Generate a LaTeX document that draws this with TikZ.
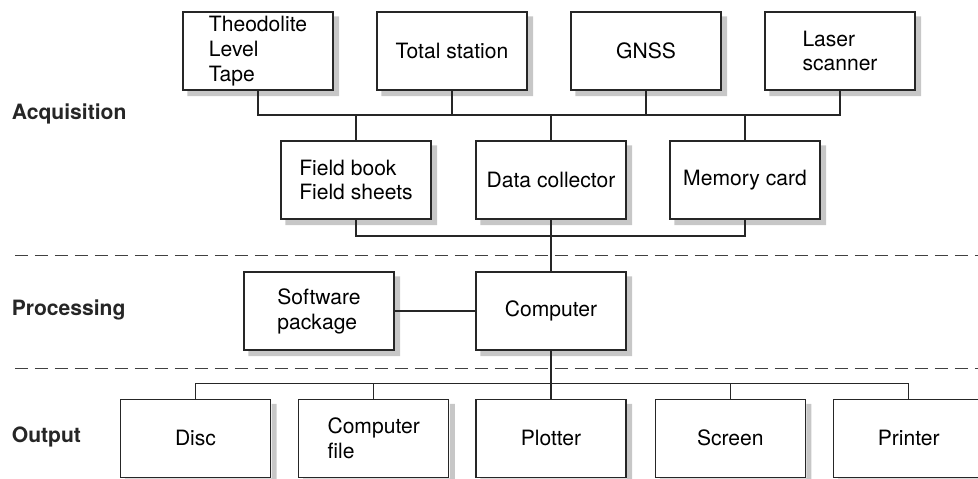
\documentclass[tikz,border=0pt]{standalone}
\usepackage{fontspec}
\setmainfont{TeX Gyre Heros}
\usepackage{tikz}
\usetikzlibrary{positioning,calc}

\begin{document}
\begin{tikzpicture}[x=0.02cm, y=-0.02cm,
  unit/.style={rectangle, draw=black!85, line width=0.6pt, fill=white,
    minimum width=3cm, minimum height=1.56cm, inner sep=0pt, align=left,
    font=\fontsize{12}{14.2}\selectfont},
  shade box/.style={fill=black!22, draw=none},
  stage/.style={anchor=west, inner sep=0pt, font=\fontsize{12}{14.2}\selectfont\bfseries, text=black!85},
  wire/.style={line width=0.6pt, black!85},
  sep/.style={line width=0.6pt, black!75, dash pattern=on 0.26cm off 0.14cm}]
\useasboundingbox (0,0) rectangle (978,479);

% stage labels
\node [stage] (acq) at (11.5,114) {Acquisition};
\node [stage] (proc) at (11.5,310) {Processing};
\node [stage] (out) at (11.5,437) {Output};

% dividers
\draw [sep] (15,255.5) -- (978,255.5);
\draw [sep] (15,368.5) -- (978,368.5);

% acquisition
\node [unit] (theo) at (258,51) {Theodolite\\Level\\Tape};
\node [unit] (total) at (452,51) {Total station};
\node [unit] (gnss) at (646,51) {GNSS};
\node [unit] (laser) at (840,51) {Laser\\scanner};

\node [unit] (field) at (356,180) {Field book\\Field sheets};
\node [unit] (data) at (551,180) {Data collector};
\node [unit] (memory) at (745,180) {Memory card};

% processing
\node [unit] (software) at (319,311) {Software\\package};
\node [unit] (computer) at (551,311) {Computer};

% output
\node [unit] (disc) at (195.5,438.3) {Disc};
\node [unit] (file) at (373.7,438.3) {Computer\\file};
\node [unit] (plotter) at (551,438.3) {Plotter};
\node [unit] (screen) at (730.3,438.3) {Screen};
\node [unit] (printer) at (908.7,438.3) {Printer};

% shadows along right and bottom sides
\foreach \n in {theo,total,gnss,laser,field,data,memory,software,computer,disc,file,plotter,screen,printer}
  \fill [shade box] ($(\n.north east)+(0.6,5)$) -- ($(\n.north east)+(5.6,5)$)
    -- ($(\n.south east)+(5.6,5.6)$) -- ($(\n.south west)+(5,5.6)$)
    -- ($(\n.south west)+(5,0.6)$) -- ($(\n.south east)+(0.6,0.6)$) -- cycle;

\coordinate (bus1) at (0,115);
\coordinate (bus2) at (0,236);
\coordinate (bus3) at (0,383.3);

\draw [wire] (theo.south) |- (laser.south |- bus1) -- (laser.south);
\draw [wire] (total.south) -- (total.south |- bus1);
\draw [wire] (gnss.south) -- (gnss.south |- bus1);
\draw [wire] (field.north) -- (field.north |- bus1);
\draw [wire] (data.north) -- (data.north |- bus1);
\draw [wire] (memory.north) -- (memory.north |- bus1);

\draw [wire] (field.south) |- (memory.south |- bus2) -- (memory.south);
\draw [wire] (data.south) -- (computer.north);
\draw [wire] (software.east) -- (computer.west);

\draw [wire] (disc.north) |- (printer.north |- bus3) -- (printer.north);
\draw [wire] (computer.south) -- (plotter.north);
\draw [wire] (file.north) -- (file.north |- bus3);
\draw [wire] (screen.north) -- (screen.north |- bus3);

\end{tikzpicture}
\end{document}
